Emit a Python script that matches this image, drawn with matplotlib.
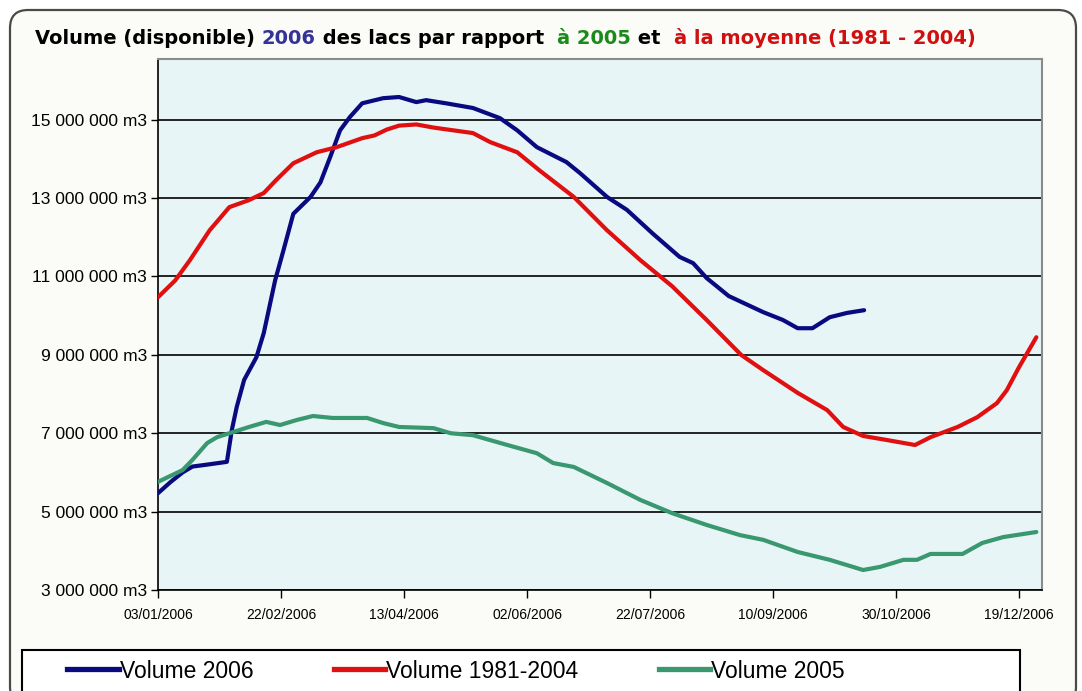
import pandas as pd
from matplotlib import pyplot as plt
from matplotlib import dates as mdates
from matplotlib import ticker
from matplotlib.patches import FancyBboxPatch, Rectangle
from matplotlib.lines import Line2D

# jours comptés depuis le 03/01/2006, volumes en millions de m3
debut = pd.Timestamp("2006-01-03")

jours_2006 = [0, 5, 10, 14, 20, 28, 30, 32, 35, 40, 43, 47.6, 51, 55, 62, 66, 70, 74, 78, 83,
              91.5, 98, 105, 109, 117, 128, 139, 146, 154, 166, 171.5, 182.5, 190.6, 201,
              212, 217.5, 223, 232, 246, 254, 260, 266, 273, 280, 287]
vol_2006 = [5.47, 5.75, 6.0, 6.15, 6.2, 6.27, 7.08, 7.67, 8.36, 8.94, 9.56, 10.9, 11.67, 12.6,
            13.03, 13.4, 14.05, 14.73, 15.07, 15.42, 15.55, 15.58, 15.45, 15.5, 15.42, 15.3,
            15.04, 14.73, 14.3, 13.92, 13.64, 13.03, 12.7, 12.1, 11.5, 11.34, 10.96, 10.5,
            10.09, 9.89, 9.68, 9.68, 9.96, 10.07, 10.14]

jours_moy = [0, 7, 13, 21, 29, 37, 43, 48, 55, 64.5, 72.6, 83, 88, 93, 98, 105, 112, 128, 135,
             146, 155, 169, 182.5, 196, 209, 223, 237, 246, 260, 272, 278.5, 286.6, 296, 307.7,
             314, 325, 333, 341, 345, 350, 357]
vol_moy = [10.47, 10.9, 11.42, 12.18, 12.77, 12.95, 13.13, 13.46, 13.89, 14.17, 14.3, 14.53,
           14.6, 14.75, 14.85, 14.88, 14.8, 14.66, 14.43, 14.17, 13.71, 13.03, 12.18, 11.42,
           10.75, 9.89, 9.0, 8.61, 8.03, 7.59, 7.16, 6.93, 6.83, 6.70, 6.9, 7.16, 7.41, 7.77,
           8.1, 8.69, 9.45]

jours_2005 = [0, 10, 14, 20, 24, 30.5, 37, 44, 49.6, 56.5, 63, 71, 85, 91.5, 98, 112, 119, 128,
              142, 154, 160.6, 169, 182.5, 196, 209, 223, 236.6, 246, 260, 273, 286.6, 293.5,
              303, 308.5, 314, 327, 335, 343.5, 357]
vol_2005 = [5.76, 6.06, 6.32, 6.75, 6.9, 7.03, 7.16, 7.29, 7.21, 7.34, 7.44, 7.39, 7.39, 7.26,
            7.16, 7.13, 7.0, 6.95, 6.70, 6.49, 6.24, 6.14, 5.73, 5.30, 4.96, 4.66, 4.40, 4.28,
            3.97, 3.77, 3.51, 3.59, 3.77, 3.77, 3.92, 3.92, 4.2, 4.35, 4.48]

series = [("Volume 2006", jours_2006, vol_2006, "#0a0a80"),
          ("Volume 1981-2004", jours_moy, vol_moy, "#e01010"),
          ("Volume 2005", jours_2005, vol_2005, "#3a9870")]

W, H = 1082, 691
fig = plt.figure(figsize=(W / 100, H / 100), dpi=100)
fig.patch.set_facecolor("white")

def fx(px):
    return px / W

def fy(py):
    return 1 - py / H

# cadre arrondi du graphique
cadre = FancyBboxPatch((0.10, -0.14), 10.66, 6.95, boxstyle="round,pad=0,rounding_size=0.18",
                       transform=fig.dpi_scale_trans, facecolor="#fbfbf7",
                       edgecolor="#4a4a4a", lw=1.6, zorder=0)
fig.add_artist(cadre)

ax = fig.add_axes([fx(158), fy(590), fx(1042) - fx(158), fy(59) - fy(590)])
ax.set_facecolor("#e8f5f7")

for nom, j, v, c in series:
    dates = debut + pd.to_timedelta(j, unit="D")
    ax.plot(dates, v, color=c, lw=3.0, solid_capstyle="round", zorder=3)

ax.set_ylim(3, 16.55)
ax.set_xlim(debut, debut + pd.Timedelta(days=359.3))
ax.set_yticks(range(3, 16, 2))
ax.yaxis.set_major_formatter(ticker.FuncFormatter(
    lambda v, p: f"{int(round(v * 1e6)):,}".replace(",", " ") + " m3"))
ax.set_xticks([debut + pd.Timedelta(days=50 * k) for k in range(8)])
ax.xaxis.set_major_formatter(mdates.DateFormatter("%d/%m/%Y"))
ax.grid(axis="y", color="black", lw=1.2, zorder=1)
ax.set_axisbelow(True)

for s in ["left", "bottom"]:
    ax.spines[s].set_color("black")
    ax.spines[s].set_linewidth(1.2)
for s in ["top", "right"]:
    ax.spines[s].set_color("#8a8a8a")
    ax.spines[s].set_linewidth(1.5)

ax.tick_params(axis="y", direction="out", length=5, width=1, pad=3, labelsize=12.5)
ax.tick_params(axis="x", direction="out", length=6, width=1, pad=7, labelsize=10)
for lab in ax.get_xticklabels() + ax.get_yticklabels():
    lab.set_family("Liberation Sans")

# titre en plusieurs couleurs
morceaux = [("Volume (disponible) ", "black"), ("2006", "#333399"),
            (" des lacs par rapport  ", "black"), ("à 2005", "#1a8a1a"),
            (" et  ", "black"), ("à la moyenne (1981 - 2004)", "#d01010")]
t = fig.text(fx(35), fy(48), morceaux[0][0], color=morceaux[0][1], fontsize=14,
             fontweight="bold", family="DejaVu Sans", va="bottom", ha="left")
for txt, col in morceaux[1:]:
    t = ax.annotate(txt, xy=(1, 0), xycoords=t, va="bottom", ha="left", color=col,
                    fontsize=14, fontweight="bold", family="DejaVu Sans",
                    annotation_clip=False)

# boîte de légende
boite = Rectangle((0.22, -0.25), 9.98, 0.66, transform=fig.dpi_scale_trans,
                  facecolor="white", edgecolor="black", lw=1.5, zorder=1)
fig.add_artist(boite)
poignees = [Line2D([], [], color=c, lw=3.8) for _, _, _, c in series]
fig.legend(poignees, [n for n, _, _, _ in series], loc="center left",
           bbox_to_anchor=(fx(67), fy(671)), ncol=3, frameon=False,
           handlelength=2.25, handletextpad=0.05, columnspacing=3.5, borderpad=0,
           borderaxespad=0, prop={"family": "Liberation Sans", "size": 16.5})

fig.savefig("out.png", dpi=100)
